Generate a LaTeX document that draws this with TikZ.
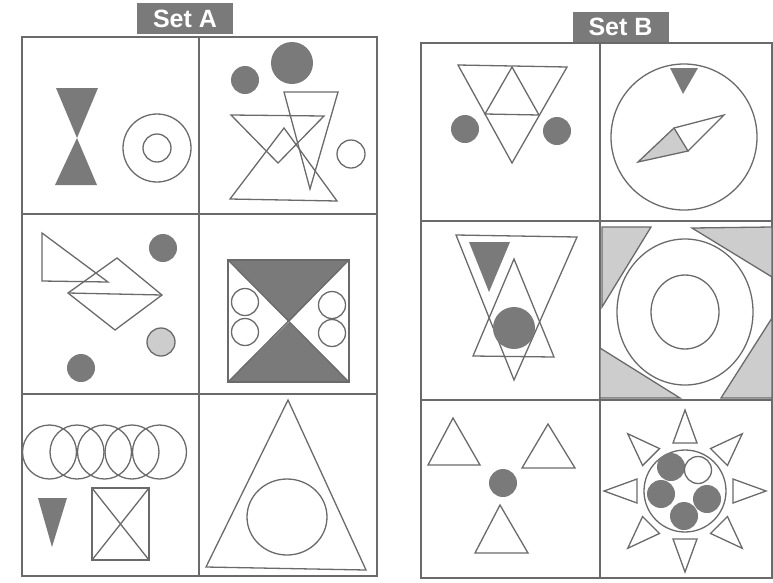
\documentclass[tikz,border=0pt]{standalone}
\usepackage{fontspec}
\setsansfont{Liberation Sans}
\usetikzlibrary{positioning,calc}
\definecolor{linegray}{HTML}{6A6A6A}
\definecolor{fillgray}{HTML}{7A7A7A}
\definecolor{palegray}{HTML}{CDCDCD}
\tikzset{
  fig/.style={draw=linegray, line width=1.3pt},
  dark/.style={fill=fillgray},
  pale/.style={fig, fill=palegray},
  frame/.style={draw=linegray, line width=1.5pt},
  settitle/.style={
    fill=fillgray, text=white, inner sep=0pt,
    font=\sffamily\bfseries\fontsize{25}{25}\selectfont,
    minimum width=96pt, minimum height=31pt
  }
}

\begin{document}
\begin{tikzpicture}[x=1pt, y=-1pt]
  \useasboundingbox (0,0) rectangle (773,582);

  % titles
  \node[settitle] (titleA) at (185,18.5) {Set A};
  \node[settitle] (titleB) at (620.5,27) {Set B};

  % Set A frame
  \draw[frame] (22,37) rectangle (377,576);
  \draw[frame] (199,37) -- (199,576);
  \draw[frame] (22,214) -- (377,214) (22,394) -- (377,394);

  % Set B frame
  \draw[frame] (421,43) rectangle (772,578);
  \draw[frame] (600,43) -- (600,578);
  \draw[frame] (421,221) -- (772,221) (421,400) -- (772,400);

  % A, row 1
  \fill[dark] (56,88) -- (98,88) -- (77,138) -- cycle;
  \fill[dark] (55,185) -- (97,185) -- (77,138) -- cycle;
  \draw[fig] (157,148) circle (34) (157,148) circle (14);

  \fill[dark] (245,80) circle (14) (292,63) circle (21);
  \draw[fig] (284,92) -- (338,92) -- (310,189) -- cycle;
  \draw[fig] (231,115) -- (324,116) -- (278,163) -- cycle;
  \draw[fig] (284,128) -- (337,201) -- (230,199) -- cycle;
  \draw[fig] (351,154) circle (14);

  % A, row 2
  \draw[fig] (42,233) -- (42,281) -- (108,282) -- cycle;
  \draw[fig] (68,293) -- (117,258) -- (162,295) -- (115,330) -- cycle;
  \draw[fig] (68,293) -- (162,295);
  \fill[dark] (163,248) circle (14) (81,368) circle (14);
  \draw[pale] (161,342) circle (14);

  \fill[dark] (228,260) -- (349,260) -- (289,322) -- cycle;
  \fill[dark] (228,382) -- (349,382) -- (289,322) -- cycle;
  \draw[fig] (228,260) rectangle (349,382);
  \draw[fig] (228,260) -- (349,382) (349,260) -- (228,382);
  \draw[fig] (245,302) circle (13.5) (245,332) circle (13.5);
  \draw[fig] (332,305) circle (13.5) (332,333) circle (13.5);

  % A, row 3
  \foreach \cx in {49.5,77,104.5,132,159.5}
    \draw[fig] (\cx,452) circle (27);
  \fill[dark] (38,498) -- (67,498) -- (52,547) -- cycle;
  \draw[fig] (92,488) rectangle (149,560);
  \draw[fig] (92,488) -- (149,560) (149,488) -- (92,560);

  \draw[fig] (288,400) -- (366,570) -- (206,567) -- cycle;
  \draw[fig] (287,517) ellipse (40 and 38);

  % B, row 1
  \draw[fig] (458,65) -- (567,67) -- (512,163) -- cycle;
  \draw[fig] (512,67) -- (485,114) -- (539,115) -- cycle;
  \fill[dark] (465,129) circle (14) (557,131) circle (14);

  \draw[fig] (684,137) circle (73);
  \fill[dark] (670,68) -- (698,68) -- (683,94) -- cycle;
  \draw[pale] (638,162) -- (674,128) -- (688,151) -- cycle;
  \draw[fig] (674,128) -- (724,115) -- (688,151);

  % B, row 2
  \draw[fig] (456,235) -- (577,237) -- (514,380) -- cycle;
  \draw[fig] (514,259) -- (554,357) -- (473,356) -- cycle;
  \fill[dark] (469,242) -- (510,242) -- (489,292) -- cycle;
  \fill[dark] (514,328) circle (21);

  \draw[pale] (602,227) -- (651,227) -- (602,307) -- cycle;
  \draw[pale] (692,228) -- (772,227) -- (772,277) -- cycle;
  \draw[pale] (772,318) -- (772,398) -- (721,398) -- cycle;
  \draw[pale] (600,348) -- (600,398) -- (680,398) -- cycle;
  \draw[fig] (685,312) ellipse (68 and 73);
  \draw[fig] (685,312) ellipse (34 and 37);

  % B, row 3
  \draw[fig] (453,418) -- (480,465) -- (428,465) -- cycle;
  \draw[fig] (548,424) -- (575,468) -- (522,468) -- cycle;
  \draw[fig] (500,505) -- (528,553) -- (475,553) -- cycle;
  \fill[dark] (503,483) circle (14);

  \coordinate (sun) at (685,491);
  \draw[fig] (sun) circle (41);
  \foreach \a in {0,45,...,315}
    \draw[fig] ($(sun)+(\a:81)$) -- ($(sun)+(\a+14:49.5)$)
      -- ($(sun)+(\a-14:49.5)$) -- cycle;
  \fill[dark] (671,467) circle (14) (661,494) circle (14)
    (707,499) circle (14) (684,516) circle (14);
  \draw[fig] (698,470) circle (13.5);
\end{tikzpicture}
\end{document}
